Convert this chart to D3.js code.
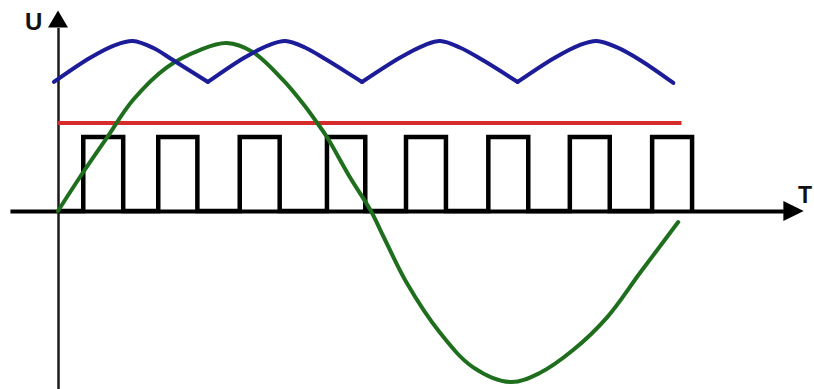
<!DOCTYPE html>
<html>
<head>
<meta charset="utf-8">
<script src="https://cdn.jsdelivr.net/npm/d3@7"></script>
<style>
  body { margin: 0; background: #fff; }
  .lbl { font-family: "Liberation Sans", Arial, sans-serif; font-weight: bold; fill: #111; }
</style>
</head>
<body>
<div id="chart"></div>
<script>
// time axis: 10 units = one pulse period; voltage: 100 = sine amplitude
var sineT = [0, 2.7, 5.9, 9.2, 13.4, 17.4, 20.7, 23.9, 27.6, 30.1, 31.8, 33.0, 35.8, 38.4,
             39.9, 42.8, 46.9, 50.9, 55.5, 59.1, 63.2, 67.4, 71.4, 76.1];
var sineU = [0, 20.0, 42.4, 65.3, 84.7, 94.7, 98.8, 93.5, 77.1, 62.9, 51.8, 43.5, 20, 0,
             -14.7, -42.4, -71.8, -91.8, -100.6, -95.3, -81.8, -62.4, -36.5, -6.5];

// rectified wave, one arch per list
var rectT = [
  [-0.5, 3.9, 7.0, 9.2, 11.7, 14.1, 18.4],
  [18.4, 22.8, 25.9, 27.9, 30.3, 33.0, 37.3],
  [37.3, 42.0, 45.0, 46.9, 49.3, 52.1, 56.4],
  [56.4, 60.9, 64.0, 66.1, 68.6, 71.4, 75.5]
];
var rectU = [
  [75.9, 90, 97.6, 100, 95.9, 88.8, 75.9],
  [75.9, 90, 97.6, 100, 96.2, 88.8, 75.9],
  [75.9, 90.3, 97.6, 100, 96.2, 88.8, 75.9],
  [75.9, 90, 97.6, 100, 96.2, 88.8, 75.3]
];

// smoothed (DC) level
var dcT = [0, 76.5];
var dcU = [51.8, 51.8];

// pulse train
var pulseStart = [3.1, 12.3, 22.3, 33.0, 42.7, 52.8, 62.8, 72.9];
var pulseEnd   = [8.0, 17.1, 27.2, 37.7, 47.6, 57.7, 67.7, 77.8];
var pulseU = 43.5;

var axisLabels = ["U", "T"];

var width = 814, height = 389;

var svg = d3.select("#chart")
  .append("svg")
    .attr("width", width)
    .attr("height", height);

var x = d3.scaleLinear().domain([0, 100]).range([58, 873]);
var y = d3.scaleLinear().domain([0, 100]).range([211, 41]);

// axes (no ticks, just the lines with arrows)
var xAxisScale = d3.scaleLinear().domain([-5.9, 89]).range([x(-5.9), x(89)]);
var yAxisScale = d3.scaleLinear().domain([-105, 108]).range([y(-105), y(108)]);

svg.append("g")
  .attr("transform", "translate(0," + y(0) + ")")
  .call(d3.axisBottom(xAxisScale).tickValues([]).tickSizeOuter(0))
  .select(".domain")
    .attr("stroke", "#000")
    .attr("stroke-width", 4);

svg.append("g")
  .attr("transform", "translate(" + x(0) + ",0)")
  .call(d3.axisLeft(yAxisScale).tickValues([]).tickSizeOuter(0))
  .select(".domain")
    .attr("stroke", "#1a1a1a")
    .attr("stroke-width", 2.5);

// arrow heads
svg.append("path")
  .attr("d", "M" + x(89) + "," + (y(0) - 10) + "L" + x(91.5) + "," + y(0) + "L" + x(89) + "," + (y(0) + 10) + "Z")
  .attr("fill", "#000");
svg.append("path")
  .attr("d", "M" + (x(0) - 10) + "," + y(108) + "L" + x(0) + "," + y(118) + "L" + (x(0) + 10) + "," + y(108) + "Z")
  .attr("fill", "#000");

svg.append("text").attr("class", "lbl")
  .attr("x", 25).attr("y", 30)
  .style("font-size", "24px")
  .text(axisLabels[0]);
svg.append("text").attr("class", "lbl")
  .attr("x", 798).attr("y", 203)
  .style("font-size", "23px")
  .text(axisLabels[1]);

// pulse train
var pulsePts = [[0, 0]];
pulseStart.forEach(function(s, i) {
  pulsePts.push([s, 0], [s, pulseU], [pulseEnd[i], pulseU], [pulseEnd[i], 0]);
});

var lineLin = d3.line()
  .x(function(d) { return x(d[0]); })
  .y(function(d) { return y(d[1]); });

svg.append("path")
  .attr("d", lineLin(pulsePts))
  .attr("fill", "none")
  .attr("stroke", "#000")
  .attr("stroke-width", 4.5)
  .attr("stroke-linejoin", "miter");

// DC level
svg.append("path")
  .attr("d", lineLin(d3.zip(dcT, dcU)))
  .attr("fill", "none")
  .attr("stroke", "#d62b2b")
  .attr("stroke-width", 4);

// sine
var lineSmooth = d3.line()
  .x(function(d) { return x(d[0]); })
  .y(function(d) { return y(d[1]); })
  .curve(d3.curveCatmullRom.alpha(0.5));

svg.append("path")
  .attr("d", lineSmooth(d3.zip(sineT, sineU)))
  .attr("fill", "none")
  .attr("stroke", "#1e6e1e")
  .attr("stroke-width", 4)
  .attr("stroke-linecap", "round");

// rectified wave
var lineArch = d3.line()
  .x(function(d) { return x(d[0]); })
  .y(function(d) { return y(d[1]); })
  .curve(d3.curveCatmullRom);

svg.selectAll(".arch")
  .data(rectT.map(function(ts, i) { return d3.zip(ts, rectU[i]); }))
  .enter()
  .append("path")
    .attr("class", "arch")
    .attr("d", lineArch)
    .attr("fill", "none")
    .attr("stroke", "#1c1c98")
    .attr("stroke-width", 4)
    .attr("stroke-linecap", "round")
    .attr("stroke-linejoin", "round");
</script>
</body>
</html>
